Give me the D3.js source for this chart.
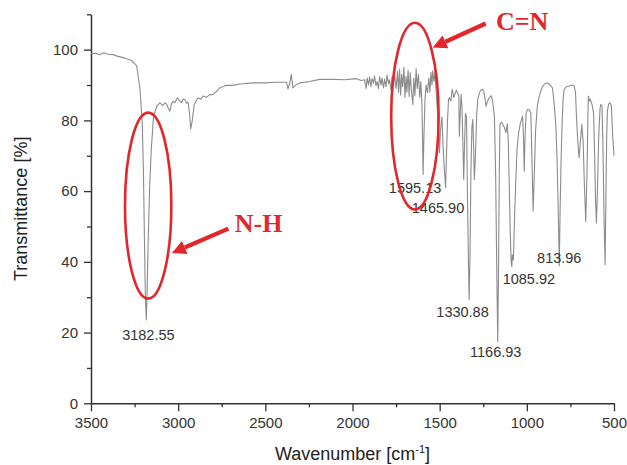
<!DOCTYPE html>
<meta charset="utf-8">
<script src="https://d3js.org/d3.v7.min.js"></script>
<style>
  body { margin: 0; background: #fff; }
  .tick text { font-family: "Liberation Sans", Arial, sans-serif; font-size: 15px; fill: #333; }
  .axis-title { font-family: "Liberation Sans", Arial, sans-serif; font-size: 18px; fill: #222; }
  .peak-label { font-family: "Liberation Sans", Arial, sans-serif; font-size: 14.5px; fill: #333; }
  .band-label { font-family: "Liberation Serif", "Times New Roman", serif; font-weight: bold; font-size: 26px; fill: #e3262b; }
</style>
<svg id="chart" width="627" height="465"></svg>
<script>

// spectrum
const wavenumber = [
  3500, 3477, 3448, 3426, 3403, 3374, 3345, 3305, 3271, 3254, 3238, 3228, 3219, 3206, 3199, 3193, 3188, 3182.55,
  3178, 3171, 3163, 3154, 3147, 3143, 3133, 3123, 3113, 3105, 3088, 3076, 3066, 3057, 3048, 3039, 3029, 3019,
  3004, 2993, 2981, 2971, 2962, 2952, 2943, 2935, 2928, 2919, 2908, 2897, 2886, 2870, 2857, 2838, 2819, 2801,
  2784, 2761, 2744, 2723, 2686, 2647, 2572, 2504, 2441, 2379, 2370, 2360, 2351, 2342, 2326, 2303, 2246, 2188,
  2112, 2045, 1978, 1950,
  1931, 1922, 1916, 1908, 1902, 1894, 1888, 1879, 1874, 1865, 1859, 1851, 1845, 1836, 1831, 1822, 1816, 1808,
  1802, 1793, 1788, 1779, 1773, 1765, 1759, 1750, 1742, 1736, 1730, 1724, 1718, 1712, 1705, 1699, 1693, 1688,
  1681, 1675, 1669, 1662, 1654, 1648, 1642, 1635, 1629, 1622, 1614, 1608, 1602, 1598, 1595.13, 1590, 1584, 1578,
  1570, 1562, 1556, 1550, 1544, 1540, 1533, 1527, 1521, 1516, 1507, 1501, 1496, 1487, 1480, 1473, 1465.9, 1461,
  1455, 1449, 1444, 1436, 1428, 1419, 1412, 1405, 1398, 1390, 1387, 1382, 1377, 1372, 1366, 1362, 1358, 1352,
  1346, 1341, 1335, 1330.88, 1326, 1321, 1315, 1310, 1305, 1301, 1295, 1288, 1281, 1272, 1263, 1253, 1244, 1234,
  1225, 1215, 1205, 1196, 1186, 1179, 1173, 1166.93, 1162, 1158, 1154, 1146, 1139, 1129, 1120, 1112, 1107, 1101,
  1095, 1090, 1085.92, 1083, 1077, 1071, 1064, 1056, 1047, 1038, 1025, 1019, 1015, 1010, 1004, 996, 986, 977,
  971, 964, 957, 950, 940, 930, 920, 910, 899, 883, 870, 860, 853, 846, 839, 834, 827, 820, 813.96, 809, 803,
  797, 792, 786, 774, 757, 740, 729, 721, 716, 709, 700, 693, 685, 677, 670, 662, 655, 650, 647, 641, 637, 626,
  617, 611, 606, 601, 595, 588, 580, 576, 569, 563, 557, 551, 546, 542, 538, 531, 523, 515, 508, 500
];
const transmittance = [
  98.9, 99.0, 98.6, 99.1, 98.7, 98.6, 98.1, 97.6, 97.0, 96.3, 95.4, 92.0, 88.8, 79.4, 65, 45, 30, 23.6,
  32, 48, 62, 72, 77, 80.2, 82.5, 84.0, 84.5, 85.0, 84.2, 85.0, 84.5, 83.5, 82.6, 84.6, 85.4, 85.0,
  86.4, 85.6, 85.0, 86.0, 85.9, 84.9, 85.1, 82.0, 77.6, 80.0, 84.5, 85.5, 86.4, 86.0, 86.9, 86.5, 87.3, 87.3,
  88.0, 89.2, 89.5, 89.9, 89.9, 90.3, 90.6, 90.6, 90.8, 90.8, 88.9, 90.5, 93.0, 89.2, 90.0, 90.6, 91.0, 91.6,
  91.6, 91.5, 91.8, 91.3,
  91.5, 89, 92, 90, 92.3, 89.5, 91.8, 90.5, 92.6, 89.8, 91, 89, 92.4, 90, 92, 89.2, 91.7, 89.5,
  92.8, 90.4, 91.5, 88.6, 92.3, 90, 93, 89, 93.8, 88, 94.5, 87.2, 93, 89.5, 95, 86.5, 92.5, 88,
  94.2, 86.8, 93.5, 88.5, 84.5, 92, 87, 94.6, 89, 93, 86.5, 91, 85, 75, 64.7, 76, 86, 90,
  87.8, 92, 88, 93.5, 90, 94, 91, 93.5, 89, 85, 78, 70.9, 77, 81, 72, 66, 61, 70,
  80, 86, 86.4, 85.5, 88.8, 86.5, 87.5, 88.5, 87.8, 87, 75.5, 82, 87.3, 84, 72, 63.3, 72, 82,
  81, 60, 40, 29.3, 42, 65, 78, 80.3, 72, 63.3, 70, 81.2, 86, 87.8, 88.6, 88.8, 87.5, 84,
  85.5, 86.4, 87, 85.5, 81, 65, 40, 17.4, 40, 65, 78.8, 79.5, 79, 78, 76.5, 79, 75, 62,
  48, 40, 38.6, 42, 40.5, 52, 62, 72, 76.5, 79, 81.2, 75, 65.6, 76, 82, 83.1, 83, 82,
  70, 54.3, 65, 77, 84, 86.5, 88.3, 89.5, 90.3, 90.6, 90.2, 89.6, 89.2, 86, 82, 78.8, 70, 55, 38.9, 55, 70,
  80, 86, 88.8, 89.5, 89.7, 90, 89.7, 88, 82, 75, 69.4, 74, 78.8, 74, 62, 51.4, 65, 80, 86.9, 85.5, 86, 84.5,
  82, 70, 58, 51, 60, 75, 83.5, 84.5, 84, 72, 52, 39.2, 60, 75, 82.6, 84.6, 85, 84, 76, 70
];

// labelled peaks
const peakWavenumber = [3182.55, 1595.13, 1465.90, 1330.88, 1166.93, 1085.92, 813.96];
const peakTransmittance = [23.6, 64.7, 61, 29.3, 17.4, 38.6, 38.9];
const peakLabels = ["3182.55", "1595.13", "1465.90", "1330.88", "1166.93", "1085.92", "813.96"];

// axes
const xTicks = [3500, 3000, 2500, 2000, 1500, 1000, 500];
const xMinorTicks = [3250, 2750, 2250, 1750, 1250, 750];
const yTicks = [0, 20, 40, 60, 80, 100];
const yMinorTicks = [10, 30, 50, 70, 90, 110];

// band annotations
const bandNames = ["N-H", "C=N"];
const bandCenter = [3172, 1642];

const svg = d3.select("#chart");
const margin = {left: 91, top: 14.3, right: 13, bottom: 61.7};
const width = 627 - margin.left - margin.right;
const height = 465 - margin.top - margin.bottom;

const x = d3.scaleLinear().domain([3500, 500]).range([margin.left, margin.left + width]);
const y = d3.scaleLinear().domain([0, 110]).range([margin.top + height, margin.top]);

const axisColor = "#333";

// x axis
const gx = svg.append("g").attr("transform", `translate(0,${y(0)})`)
  .call(d3.axisBottom(x).tickValues(xTicks).tickSize(8).tickSizeOuter(0).tickPadding(6).tickFormat(d3.format("d")));
svg.append("g").attr("transform", `translate(0,${y(0)})`)
  .call(d3.axisBottom(x).tickValues(xMinorTicks).tickSize(4).tickSizeOuter(0).tickFormat(""))
  .select(".domain").remove();

// y axis
const gy = svg.append("g").attr("transform", `translate(${x(3500)},0)`)
  .call(d3.axisLeft(y).tickValues(yTicks).tickSize(7).tickSizeOuter(0).tickPadding(6));
svg.append("g").attr("transform", `translate(${x(3500)},0)`)
  .call(d3.axisLeft(y).tickValues(yMinorTicks).tickSize(4).tickSizeOuter(0).tickFormat(""))
  .select(".domain").remove();

svg.selectAll(".domain").attr("stroke", axisColor).attr("stroke-width", 1.5);
svg.selectAll(".tick line").attr("stroke", axisColor).attr("stroke-width", 1.3);

// titles
const xt = svg.append("text").attr("class", "axis-title")
  .attr("x", x(2000)).attr("y", 460).attr("text-anchor", "middle");
xt.append("tspan").text("Wavenumber [cm");
xt.append("tspan").attr("font-size", "11px").attr("dy", "-7").text("-1");
xt.append("tspan").attr("dy", "7").text("]");

svg.append("text").attr("class", "axis-title")
  .attr("transform", `translate(27,${y(55)}) rotate(-90)`)
  .attr("text-anchor", "middle")
  .text("Transmittance [%]");

// spectrum
const spectrum = wavenumber.map((w, i) => [w, transmittance[i]]);
svg.append("path")
  .datum(spectrum)
  .attr("fill", "none")
  .attr("stroke", "#8c8c8c")
  .attr("stroke-width", 1.1)
  .attr("stroke-linejoin", "round")
  .attr("d", d3.line().x(d => x(d[0])).y(d => y(d[1])));

// peak labels (nudges in px from the peak tip)
const labelNudge = [[2, 20], [-8, 18.5], [-7.6, 25], [-6.6, 17], [-2, 15], [17, 17], [0, -3]];
svg.selectAll(".peak-label")
  .data(peakLabels)
  .join("text")
  .attr("class", "peak-label")
  .attr("text-anchor", "middle")
  .attr("x", (d, i) => x(peakWavenumber[i]) + labelNudge[i][0])
  .attr("y", (d, i) => y(peakTransmittance[i]) + labelNudge[i][1])
  .text(d => d);

// red ellipses, arrows and band names
const red = "#e3262b";
const ellipse = [
  {w: bandCenter[0], t: 55.9, rw: 133, rt: 26.3},
  {w: bandCenter[1], t: 81.2, rw: 136, rt: 26.4}
];
svg.selectAll(".band-ellipse")
  .data(ellipse)
  .join("ellipse")
  .attr("cx", d => x(d.w))
  .attr("cy", d => y(d.t))
  .attr("rx", d => x(d.w - d.rw) - x(d.w))
  .attr("ry", d => y(d.t - d.rt) - y(d.t))
  .attr("fill", "none")
  .attr("stroke", red)
  .attr("stroke-width", 2.6);

const arrows = [
  {from: [2712, 49.4], to: [3036, 42.5]},
  {from: [1236, 107.4], to: [1540, 100.6]}
];
arrows.forEach(a => {
  const x1 = x(a.from[0]), y1 = y(a.from[1]), x2 = x(a.to[0]), y2 = y(a.to[1]);
  const ang = Math.atan2(y2 - y1, x2 - x1);
  const headLen = 14, headW = 7;
  const bx = x2 - headLen * Math.cos(ang), by = y2 - headLen * Math.sin(ang);
  svg.append("line")
    .attr("x1", x1).attr("y1", y1).attr("x2", bx).attr("y2", by)
    .attr("stroke", red).attr("stroke-width", 4.2);
  const px = -Math.sin(ang) * headW, py = Math.cos(ang) * headW;
  svg.append("polygon")
    .attr("points", `${x2},${y2} ${bx + px},${by + py} ${bx - px},${by - py}`)
    .attr("fill", red);
});

const bandText = [[2675, 48.5], [1177, 105.7]];
svg.selectAll(".band-label")
  .data(bandNames)
  .join("text")
  .attr("class", "band-label")
  .attr("x", (d, i) => x(bandText[i][0]))
  .attr("y", (d, i) => y(bandText[i][1]))
  .text(d => d);

</script>
